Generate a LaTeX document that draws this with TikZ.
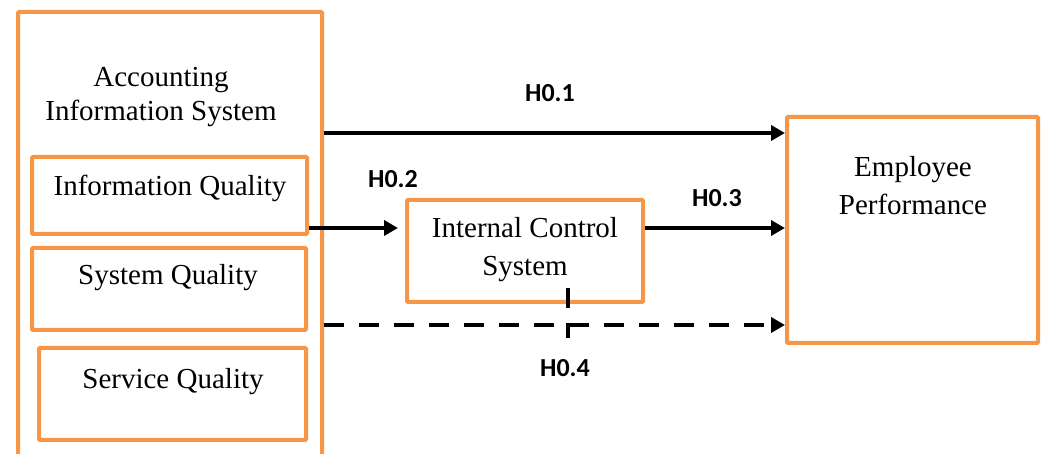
\documentclass[tikz,border=0pt]{standalone}
\usepackage{fontspec}
\setmainfont{Liberation Serif}
\newfontfamily\lblfont{Carlito}
\usetikzlibrary{arrows.meta}
\definecolor{boxorange}{RGB}{247,150,70}
\begin{document}
\begin{tikzpicture}[x=1pt,y=-1pt,
  obox/.style={draw=boxorange, line width=4pt, rounded corners=1pt, inner sep=0pt},
  txt/.style={font=\fontsize{29}{34}\selectfont, align=center, inner sep=0pt},
  wide/.style={font=\fontsize{29}{38}\selectfont},
  hlabel/.style={font=\lblfont\bfseries\fontsize{26}{30}\selectfont, inner sep=0pt},
  conn/.style={line width=3.5pt, -{Triangle[length=14pt,width=15pt]}},
  dashconn/.style={conn, dash pattern=on 20pt off 15pt},
  tickline/.style={line width=3.5pt, dash pattern=on 20pt off 15pt},
]
\useasboundingbox (0,0) rectangle (1045,454);
\clip (0,0) rectangle (1045,454);
% boxes
\node[obox, minimum width=304pt, minimum height=468pt] (ais) at (170,246) {};
\node[obox, minimum width=275pt, minimum height=77pt] (iq) at (169.5,195.5) {};
\node[obox, minimum width=274pt, minimum height=82pt] (sq) at (169,289) {};
\node[obox, minimum width=267pt, minimum height=92pt] (svq) at (172.5,394) {};
\node[obox, minimum width=236pt, minimum height=102pt] (ics) at (525,251) {};
\node[obox, minimum width=251pt, minimum height=226pt] (ep) at (912.5,230) {};
% texts
\node[txt] (aist) at (161,97) {Accounting\\Information System};
\node[txt] (iqt) at (170,188) {Information Quality};
\node[txt] (sqt) at (168,278) {System Quality};
\node[txt] (svqt) at (173,382) {Service Quality};
\node[txt, wide] (icst) at (525,250) {Internal Control\\System};
\node[txt, wide] (ept) at (913,186) {Employee\\Performance};
% labels
\node[hlabel] (h1) at (550,93) {H0.1};
\node[hlabel] (h2) at (393,179) {H0.2};
\node[hlabel] (h3) at (717,198) {H0.3};
\node[hlabel] (h4) at (565,368) {H0.4};
% connectors
\draw[conn] (ais.east |- 0,133) -- (ep.west |- 0,133);
\draw[conn, shorten >=7pt] (iq.east |- 0,228) -- (ics.west |- 0,228);
\draw[conn] (ics.east |- 0,228) -- (ep.west |- 0,228);
\draw[dashconn] (ais.east |- 0,325) -- (ep.west |- 0,325);
\coordinate (tickTop) at (568,288);
\coordinate (tickBot) at (568,338);
\draw[tickline] (tickTop) -- (tickBot);
\end{tikzpicture}
\end{document}
